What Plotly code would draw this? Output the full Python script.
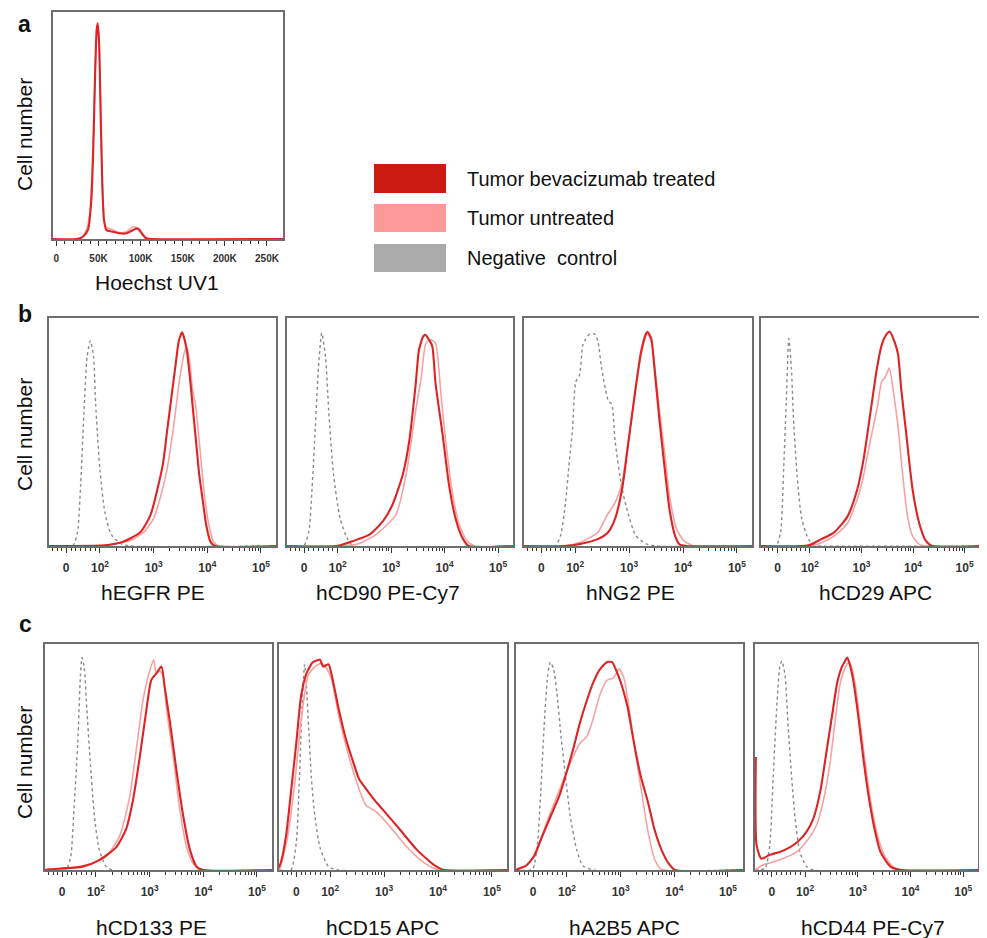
import numpy as np
import plotly.graph_objects as go

# ---------------- data ----------------
# Panel a: Hoechst UV1 (intensity units) vs cell number (% of max)
hoechst_treated_x = [-4000, 23700, 31600, 37500, 41500, 44300, 46200, 47800, 49000, 50600, 52600, 54500,
                     56500, 59300, 67200, 75100, 83000, 88900, 92900, 95700, 98800, 102800, 106700, 114600, 269000]
hoechst_treated_y = [0, 0, 1, 4, 17, 46.5, 76, 92, 95, 87.5, 54, 24.5, 8.4, 4, 3.2, 2.5, 2.5, 3.5, 4.25, 4.7,
                     4, 1.8, 0.3, 0, 0]
hoechst_untreated_x = [-4000, 27700, 35600, 39500, 42700, 45100, 47000, 48600, 50200, 52600, 55300, 58500,
                       67200, 75100, 83000, 90900, 94900, 98800, 104700, 110700, 269000]
hoechst_untreated_y = [0, 0, 4, 11, 32, 62, 83, 93, 90, 61, 17, 5.4, 4, 2.8, 3.2, 5.4, 5, 3.2, 0.7, 0, 0]

# Flow panels: x = log10 display units (biexponential axis), y = % of max
egfr_ctrl_x = [1.05, 1.49, 1.58, 1.64, 1.70, 1.76, 1.82, 1.88, 1.92, 2.00, 2.09, 2.21, 2.39, 2.57, 5.28]
egfr_ctrl_y = [0, 0, 6, 27, 58, 83, 90, 83, 62, 33, 15, 5, 1, 0, 0]
egfr_trt_x = [1.05, 2.09, 2.39, 2.58, 2.76, 2.94, 3.17, 3.25, 3.33, 3.41, 3.47, 3.53, 3.61, 3.67, 3.73, 3.79,
              3.85, 3.91, 3.98, 4.06, 4.15, 5.28]
egfr_trt_y = [0, 0.3, 1.5, 3.5, 6.2, 13.5, 35.6, 50.3, 65, 79.7, 90, 93.7, 87, 75.3, 60.6, 45.9, 31.2, 20.9,
              9.1, 1.8, 0, 0]
egfr_unt_x = [1.05, 2.09, 2.58, 2.82, 3.00, 3.12, 3.24, 3.36, 3.48, 3.58, 3.62, 3.67, 3.73, 3.78, 3.85, 3.94,
              4.03, 4.12, 4.21, 5.28]
egfr_unt_y = [0, 0.3, 2.5, 6.2, 12.1, 20.9, 32.6, 50.3, 72.4, 85.6, 87.1, 81.2, 67.9, 62.1, 45.9, 23.8, 9.1,
              1.8, 0, 0]

cd90_ctrl_x = [1.05, 1.36, 1.46, 1.52, 1.58, 1.64, 1.70, 1.77, 1.83, 1.92, 2.04, 2.17, 2.29, 5.28]
cd90_ctrl_y = [0, 0, 6.6, 25.7, 52.2, 78.7, 93.4, 83.1, 59.6, 31.6, 12.5, 3.7, 0, 0]
cd90_trt_x = [1.05, 1.98, 2.29, 2.60, 2.85, 3.03, 3.22, 3.34, 3.46, 3.52, 3.60, 3.64, 3.71, 3.77, 3.83, 3.96,
              4.08, 4.20, 4.33, 4.45, 5.28]
cd90_trt_y = [0, 0, 2.2, 5.1, 11.0, 18.4, 31.6, 46.3, 71.3, 86.0, 91.9, 92.6, 90.4, 87.5, 71.3, 49.3, 27.2,
              12.5, 3.7, 0, 0]
cd90_unt_x = [1.05, 2.35, 2.72, 3.09, 3.28, 3.46, 3.56, 3.65, 3.74, 3.83, 3.93, 4.02, 4.14, 4.27, 4.42, 4.57, 5.28]
cd90_unt_y = [0, 0.7, 5.1, 13.8, 31.4, 59.6, 73.5, 88.9, 90.4, 88.9, 66.9, 46.3, 24.3, 9.6, 2.2, 0, 0]

ng2_ctrl_x = [1.05, 1.63, 1.73, 1.82, 1.89, 1.95, 2.01, 2.08, 2.14, 2.20, 2.27, 2.36, 2.42, 2.49, 2.61, 2.68,
              2.74, 2.87, 2.99, 3.12, 3.31, 3.50, 5.28]
ng2_ctrl_y = [0, 0, 4.7, 19, 37, 51, 72, 75, 88, 91, 93, 93, 90, 78, 64, 62, 46, 25, 13.5, 4.7, 1, 0, 0]
ng2_trt_x = [1.05, 1.79, 2.11, 2.42, 2.61, 2.74, 2.87, 2.99, 3.12, 3.22, 3.31, 3.34, 3.41, 3.47, 3.56, 3.66,
             3.75, 3.85, 3.94, 4.07, 5.28]
ng2_trt_y = [0, 0, 1, 3, 6, 12, 25, 46, 69, 85, 93, 94, 91, 78, 56, 34, 16, 4.7, 0.6, 0, 0]
ng2_unt_x = [1.05, 1.79, 2.11, 2.42, 2.59, 2.74, 2.87, 2.99, 3.12, 3.25, 3.34, 3.41, 3.47, 3.56, 3.66, 3.75,
             3.88, 4.01, 4.20, 5.28]
ng2_unt_y = [0, 0, 1.8, 6, 13.5, 19, 28, 47, 69, 87, 93, 90, 80, 60, 41, 22, 7.6, 2.5, 0, 0]

cd29_ctrl_x = [1.05, 1.34, 1.43, 1.49, 1.54, 1.59, 1.64, 1.68, 1.75, 1.84, 1.97, 2.09, 2.20, 5.28]
cd29_ctrl_y = [0, 0, 6, 34, 63, 91, 78, 56, 31, 12, 3, 0.3, 0, 0]
cd29_trt_x = [1.05, 1.97, 2.22, 2.47, 2.73, 2.92, 3.04, 3.17, 3.30, 3.39, 3.49, 3.55, 3.65, 3.71, 3.77, 3.87,
              3.99, 4.12, 4.25, 4.37, 5.28]
cd29_trt_y = [0, 0.3, 3, 6, 13, 25, 38, 58, 78, 88, 93, 94, 89, 84, 69, 49, 25, 10, 2.2, 0, 0]
cd29_unt_x = [1.05, 2.09, 2.47, 2.73, 2.98, 3.17, 3.30, 3.39, 3.46, 3.54, 3.61, 3.71, 3.80, 3.90, 3.99, 4.12,
              4.25, 5.28]
cd29_unt_y = [0, 0.3, 4.4, 10, 25, 46, 60, 72, 74, 78, 69, 52, 31, 12, 4.4, 0.7, 0, 0]

cd133_ctrl_x = [1.05, 1.44, 1.53, 1.59, 1.66, 1.71, 1.74, 1.78, 1.83, 1.89, 1.97, 2.06, 2.19, 2.31, 5.28]
cd133_ctrl_y = [0, 0, 6, 27, 56, 86, 94, 90, 71, 49, 24, 9, 1.5, 0, 0]
cd133_trt_x = [1.05, 1.125, 1.75, 2.06, 2.375, 2.56, 2.69, 2.81, 2.94, 3.03, 3.125, 3.22, 3.28, 3.375, 3.5,
               3.625, 3.75, 3.875, 4.0, 5.28]
cd133_trt_y = [0, 0.3, 1.5, 4.4, 10, 18, 31, 49, 71, 84, 87, 90, 81, 66, 44, 24, 9, 1.5, 0, 0]
cd133_unt_x = [1.05, 1.44, 1.94, 2.19, 2.44, 2.625, 2.75, 2.875, 3.0, 3.075, 3.125, 3.19, 3.25, 3.31, 3.44,
               3.56, 3.69, 3.81, 3.94, 5.28]
cd133_unt_y = [0, 0.7, 3, 6, 15, 32, 53, 75, 88, 93, 87, 88, 86, 72, 50, 27, 10, 3, 0, 0]

cd15_ctrl_x = [1.05, 1.27, 1.37, 1.43, 1.475, 1.525, 1.56, 1.60, 1.65, 1.715, 1.81, 1.97, 2.16, 5.28]
cd15_ctrl_y = [0, 0, 12, 41, 71, 91, 81, 63, 41, 24, 10, 1.5, 0, 0]
cd15_trt_x = [1.02, 1.08, 1.18, 1.27, 1.37, 1.46, 1.56, 1.68, 1.81, 1.87, 1.97, 2.03, 2.16, 2.28, 2.41, 2.54,
              2.63, 2.82, 2.98, 3.30, 3.61, 3.93, 4.12, 5.28]
cd15_trt_y = [0, 3, 15, 34, 56, 77, 87, 92, 93, 90, 91, 86, 71, 59, 49, 40, 37, 31, 26.6, 17.7, 8.9, 2.2, 0, 0]
cd15_unt_x = [1.05, 1.08, 1.21, 1.34, 1.46, 1.59, 1.72, 1.84, 1.94, 2.03, 2.16, 2.35, 2.54, 2.66, 2.85, 3.11,
              3.42, 3.68, 3.93, 4.06, 5.28]
cd15_unt_y = [0, 1.5, 14.8, 38, 66, 86, 90, 91.5, 89, 84, 68, 50, 35.5, 28.8, 25.8, 19.2, 10.3, 4.4, 0.7, 0, 0]

a2b5_ctrl_x = [1.05, 1.355, 1.45, 1.51, 1.575, 1.64, 1.69, 1.75, 1.81, 1.89, 1.975, 2.06, 2.18, 2.30, 2.49, 5.28]
a2b5_ctrl_y = [0, 0.3, 12, 34, 64, 86, 92, 89, 79, 59, 41, 24, 9, 1.8, 0, 0]
a2b5_trt_x = [1.05, 1.07, 1.23, 1.39, 1.54, 1.70, 1.86, 1.99, 2.11, 2.24, 2.37, 2.49, 2.62, 2.75, 2.84, 2.94,
              3.03, 3.13, 3.25, 3.38, 3.51, 3.63, 3.76, 3.89, 4.01, 5.28]
a2b5_trt_y = [0, 0.3, 1.8, 6.2, 15, 24, 33, 43, 53, 65, 75, 83, 89, 92, 92, 87, 81, 72, 56, 41, 30, 18, 9, 3,
              0, 0]
a2b5_unt_x = [1.05, 1.10, 1.30, 1.48, 1.67, 1.92, 2.11, 2.24, 2.37, 2.49, 2.62, 2.75, 2.87, 2.97, 3.06, 3.13,
              3.25, 3.38, 3.51, 3.63, 3.76, 5.28]
a2b5_unt_y = [0, 0.3, 3, 12, 24, 39, 50, 56, 59, 67, 78, 84, 85, 89, 85, 76, 56, 36, 17, 5, 0.3, 0]

cd44_ctrl_x = [1.05, 1.24, 1.33, 1.395, 1.46, 1.52, 1.56, 1.62, 1.68, 1.745, 1.81, 1.90, 2.03, 2.16, 5.28]
cd44_ctrl_y = [0, 0.7, 11, 41, 71, 90, 92.5, 86, 63, 41, 23, 8, 1.5, 0, 0]
cd44_trt_x = [1.065, 1.08, 1.17, 1.33, 1.52, 1.71, 1.87, 2.03, 2.16, 2.29, 2.41, 2.51, 2.61, 2.70, 2.76, 2.80,
              2.86, 2.92, 3.02, 3.11, 3.21, 3.31, 3.43, 3.62, 3.82, 5.28]
cd44_trt_y = [50, 11, 5, 6.7, 8, 10, 12.7, 17, 23, 35, 53, 68, 83, 90, 92.5, 94, 90, 83, 66, 48.5, 32, 19, 8,
              1.5, 0, 0]
cd44_unt_x = [1.05, 1.20, 1.52, 1.84, 2.03, 2.22, 2.35, 2.48, 2.57, 2.67, 2.75, 2.83, 2.89, 2.96, 3.05, 3.15,
              3.24, 3.37, 3.50, 3.69, 3.88, 5.28]
cd44_unt_y = [0, 2.2, 4.5, 8, 12.7, 20, 31, 48.5, 66, 83, 89, 92, 89, 81, 64, 46, 31, 15.7, 6.7, 1, 0, 0]

flow_titles = ["hEGFR PE", "hCD90 PE-Cy7", "hNG2 PE", "hCD29 APC",
               "hCD133 PE", "hCD15 APC", "hA2B5 APC", "hCD44 PE-Cy7"]
flow_tickvals = [1.37, 2, 3, 4, 5]
flow_ticktext = ["0", "10<sup>2</sup>", "10<sup>3</sup>", "10<sup>4</sup>", "10<sup>5</sup>"]
hoechst_tickvals = [0, 50000, 100000, 150000, 200000, 250000]
hoechst_ticktext = ["0", "50K", "100K", "150K", "200K", "250K"]
legend_labels = ["Tumor bevacizumab treated", "Tumor untreated", "Negative  control"]

flow_data = [
    (egfr_ctrl_x, egfr_ctrl_y, egfr_unt_x, egfr_unt_y, egfr_trt_x, egfr_trt_y),
    (cd90_ctrl_x, cd90_ctrl_y, cd90_unt_x, cd90_unt_y, cd90_trt_x, cd90_trt_y),
    (ng2_ctrl_x, ng2_ctrl_y, ng2_unt_x, ng2_unt_y, ng2_trt_x, ng2_trt_y),
    (cd29_ctrl_x, cd29_ctrl_y, cd29_unt_x, cd29_unt_y, cd29_trt_x, cd29_trt_y),
    (cd133_ctrl_x, cd133_ctrl_y, cd133_unt_x, cd133_unt_y, cd133_trt_x, cd133_trt_y),
    (cd15_ctrl_x, cd15_ctrl_y, cd15_unt_x, cd15_unt_y, cd15_trt_x, cd15_trt_y),
    (a2b5_ctrl_x, a2b5_ctrl_y, a2b5_unt_x, a2b5_unt_y, a2b5_trt_x, a2b5_trt_y),
    (cd44_ctrl_x, cd44_ctrl_y, cd44_unt_x, cd44_unt_y, cd44_trt_x, cd44_trt_y),
]

# ---------------- styling / layout ----------------
# the page body has an 8px default margin, so the figure is made 8px smaller
# and all pixel positions below are measured in window coordinates
OFF = 8
W, H = 987 - OFF, 938 - OFF
RED = "#dd2424"
PINK = "#f6a2a2"
GREY = "#8a8a8a"
FRAME = "#6e6e6e"
FONT = "Liberation Sans, Arial, sans-serif"


def px(x):
    return (x - OFF) / W


def py(y):
    return 1 - (y - OFF) / H


# panel boxes in window pixels
box_a = (53, 283, 12, 239)
boxes_b = [(49, 276), (287, 513), (524, 752), (761, 979)]
boxes_c = [(45, 272), (279, 507), (516, 743), (755, 978)]
row_b = (318, 546)
row_c = (644, 870)
title_b_x = [153, 388, 630, 875]
title_c_x = [151, 382, 624, 873]

fig = go.Figure()
layout = dict(width=W, height=H, margin=dict(l=0, r=0, t=0, b=0),
              paper_bgcolor="white", plot_bgcolor="white", showlegend=False,
              font=dict(family=FONT, color="#111"))

line_red = dict(color=RED, width=2.1, shape="spline", smoothing=0.6)
line_pink = dict(color=PINK, width=1.6, shape="spline", smoothing=0.6)
line_grey = dict(color=GREY, width=1.4, dash="dot", shape="spline", smoothing=0.6)


def axis_common():
    return dict(showline=True, mirror=True, linecolor=FRAME, linewidth=1.8,
                showgrid=False, zeroline=False)


# minor tick positions for log decades and linear region
flow_minor = [round(k + np.log10(m), 4) for k in (2, 3, 4) for m in range(2, 10)]
flow_minor += [1.12, 1.2, 1.28, 1.46, 1.55, 1.64, 1.73, 1.82, 1.91]

# Panel a
fig.add_trace(go.Scatter(x=hoechst_untreated_x, y=hoechst_untreated_y, mode="lines",
                         line=line_pink, xaxis="x", yaxis="y", hoverinfo="skip"))
fig.add_trace(go.Scatter(x=hoechst_treated_x, y=hoechst_treated_y, mode="lines",
                         line=line_red, xaxis="x", yaxis="y", hoverinfo="skip"))
l, r, t, b = box_a
layout["xaxis"] = dict(axis_common(), domain=[px(l), px(r)], range=[-4000, 269000], anchor="y",
                       tickmode="array", tickvals=hoechst_tickvals, ticktext=hoechst_ticktext,
                       ticks="outside", ticklen=5, tickwidth=1.2, tickcolor="#333",
                       tickfont=dict(size=10, weight="bold", color="#333"), ticklabelstandoff=4,
                       minor=dict(tickmode="array", tickvals=list(range(10000, 260000, 10000)),
                                  ticks="outside", ticklen=3, tickwidth=1, tickcolor="#333"))
layout["yaxis"] = dict(axis_common(), domain=[py(b), py(t)], range=[0, 100], anchor="x",
                       showticklabels=False, ticks="")

# Flow panels
for i, (cx, cy, ux, uy, tx, ty) in enumerate(flow_data):
    n = i + 2
    xa, ya = f"x{n}", f"y{n}"
    fig.add_trace(go.Scatter(x=cx, y=cy, mode="lines", line=line_grey, xaxis=xa, yaxis=ya, hoverinfo="skip"))
    fig.add_trace(go.Scatter(x=ux, y=uy, mode="lines", line=line_pink, xaxis=xa, yaxis=ya, hoverinfo="skip"))
    fig.add_trace(go.Scatter(x=tx, y=ty, mode="lines", line=line_red, xaxis=xa, yaxis=ya, hoverinfo="skip"))
    if i < 4:
        l, r = boxes_b[i]
        t, b = row_b
    else:
        l, r = boxes_c[i - 4]
        t, b = row_c
    layout[f"xaxis{n}"] = dict(axis_common(), domain=[px(l), px(r)], range=[1.05, 5.28], anchor=ya,
                               tickmode="array", tickvals=flow_tickvals, ticktext=flow_ticktext,
                               ticks="outside", ticklen=5, tickwidth=1.2, tickcolor="#333",
                               tickfont=dict(size=12, weight="bold", color="#333"), ticklabelstandoff=5,
                               minor=dict(tickmode="array", tickvals=flow_minor, ticks="outside",
                                          ticklen=3, tickwidth=1, tickcolor="#333"))
    layout[f"yaxis{n}"] = dict(axis_common(), domain=[py(b), py(t)], range=[0, 100], anchor=xa,
                               showticklabels=False, ticks="")

# annotations
ann = []
for txt, (x, y), ya_ in zip(["a", "b", "c"], [(24, 9), (25, 314), (25, 624)], ["top", "middle", "middle"]):
    ann.append(dict(text=f"<b>{txt}</b>", x=px(x), y=py(y), xref="paper", yref="paper",
                    showarrow=False, font=dict(size=23, color="#111"), xanchor="center", yanchor=ya_))
for y in (135, 435, 763):
    ann.append(dict(text="Cell number", x=px(24), y=py(y), xref="paper", yref="paper", textangle=-90,
                    showarrow=False, font=dict(size=21, color="#111"), xanchor="center", yanchor="middle"))
ann.append(dict(text="Hoechst UV1", x=px(157), y=py(283), xref="paper", yref="paper", showarrow=False,
                font=dict(size=21, color="#111"), xanchor="center", yanchor="middle"))
for i, title in enumerate(flow_titles):
    x = title_b_x[i] if i < 4 else title_c_x[i - 4]
    y = 592 if i < 4 else 927
    ann.append(dict(text=title, x=px(x), y=py(y), xref="paper", yref="paper", showarrow=False,
                    font=dict(size=21, color="#111"), xanchor="center", yanchor="middle"))

# legend (drawn manually as in the original figure)
shapes = []
legend_colors = ["#cc1a10", "#ff9999", "#aaaaaa"]
legend_rows = [(164, 193), (204, 232), (244, 272)]
for lab, col, (t, b) in zip(legend_labels, legend_colors, legend_rows):
    shapes.append(dict(type="rect", xref="paper", yref="paper", x0=px(374), x1=px(446), y0=py(b), y1=py(t),
                       fillcolor=col, line=dict(width=0)))
    ann.append(dict(text=lab, x=px(465), y=py((t + b) / 2), xref="paper", yref="paper", showarrow=False,
                    font=dict(size=20, color="#111"), xanchor="left", yanchor="middle"))

layout["annotations"] = ann
layout["shapes"] = shapes
fig.update_layout(**layout)
fig.write_html("out.html")
